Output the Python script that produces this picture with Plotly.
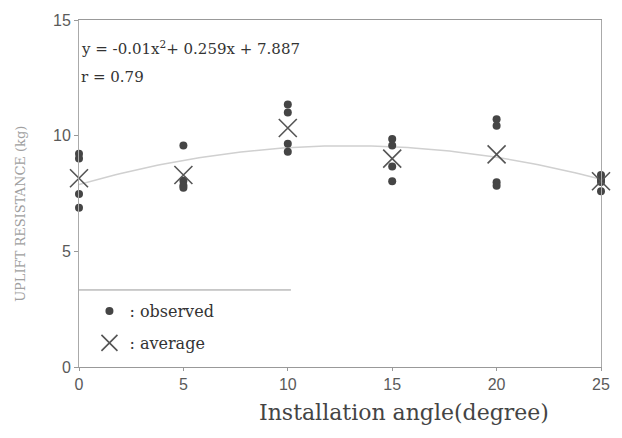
import numpy as np
import plotly.graph_objects as go

# Data
angles = [0, 5, 10, 15, 20, 25]
obs_x = [0, 0, 0, 0,
         5, 5, 5, 5,
         10, 10, 10, 10,
         15, 15, 15, 15,
         20, 20, 20, 20,
         25, 25, 25, 25]
obs_y = [9.22, 9.01, 7.48, 6.88,
         9.58, 8.05, 7.85, 7.75,
         11.35, 11.0, 9.65, 9.3,
         9.86, 9.58, 8.67, 8.03,
         10.71, 10.43, 7.99, 7.83,
         8.3, 8.1, 8.0, 7.6]
avg_y = [8.16, 8.3, 10.33, 9.01, 9.19, 8.03]

# Regression equation shown on the chart: y = a x^2 + b x + c
coef_a, coef_b, coef_c = -0.01, 0.259, 7.887
r_value = 0.79

x_title = "Installation angle(degree)"
y_title = "UPLIFT RESISTANCE (kg)"

fit_x = np.linspace(0, 25, 101)
fit_y = coef_a * fit_x**2 + coef_b * fit_x + coef_c

serif = "DejaVu Serif, serif"
sans = "Liberation Sans, Arial, sans-serif"

fig = go.Figure()
fig.add_trace(go.Scatter(
    x=fit_x, y=fit_y, mode="lines",
    line=dict(color="#d0d0d0", width=1.5),
    showlegend=False, hoverinfo="skip"))
fig.add_trace(go.Scatter(
    x=obs_x, y=obs_y, mode="markers", name=": observed",
    legendgroup="a", cliponaxis=False,
    marker=dict(symbol="circle", size=8, color="#454545")))
fig.add_trace(go.Scatter(
    x=angles, y=avg_y, mode="markers", name=": average",
    legendgroup="b", cliponaxis=False,
    marker=dict(symbol="x-thin", size=18,
                line=dict(color="#555555", width=1.6))))

fig.add_annotation(
    xref="paper", yref="paper", x=0.0, y=0.92, xanchor="left", yanchor="middle",
    text=f"y = {coef_a:.2f}x<sup>2</sup>+ {coef_b}x + {coef_c}",
    showarrow=False, font=dict(family=serif, size=15, color="#333333"))
fig.add_annotation(
    xref="paper", yref="paper", x=0.0, y=0.835, xanchor="left", yanchor="middle",
    text=f"r = {r_value}",
    showarrow=False, font=dict(family=serif, size=15, color="#333333"))

# axis titles (placed as in the reference, off-centre)
fig.add_annotation(
    xref="paper", yref="paper", x=0.623, y=-0.13, xanchor="center", yanchor="middle",
    text=x_title, showarrow=False,
    font=dict(family=serif, size=22, color="#444444"))
fig.add_annotation(
    xref="paper", yref="paper", x=-0.112, y=0.44, xanchor="center", yanchor="middle",
    text=y_title, showarrow=False, textangle=-90,
    font=dict(family=serif, size=13, color="#a0a0a0"))

# top line of the legend box
fig.add_shape(type="line", xref="paper", yref="paper",
              x0=0, x1=0.406, y0=0.222, y1=0.222,
              line=dict(color="#999999", width=1))

fig.update_layout(
    width=622, height=438,
    margin=dict(l=79, r=21, t=14, b=71),
    plot_bgcolor="white", paper_bgcolor="white",
    legend=dict(x=0.02, y=0.21, xanchor="left", yanchor="top",
                bgcolor="rgba(0,0,0,0)", borderwidth=0,
                font=dict(family=serif, size=16, color="#333333"),
                tracegroupgap=8, itemwidth=30),
    xaxis=dict(range=[0, 25], tickvals=[0, 5, 10, 15, 20, 25],
               showgrid=False, zeroline=False,
               showline=True, mirror=True, linecolor="#999999", linewidth=1,
               ticks="outside", ticklen=3, tickcolor="#999999",
               tickfont=dict(family=sans, size=16, color="#5a5a5a")),
    yaxis=dict(range=[0, 15], tickvals=[0, 5, 10, 15],
               showgrid=False, zeroline=False,
               showline=True, mirror=True, linecolor="#aaaaaa", linewidth=1,
               ticks="outside", ticklen=4, tickcolor="#999999",
               tickfont=dict(family=sans, size=16, color="#5a5a5a")),
)

fig.write_html("out.html", config={"displayModeBar": False},
               post_script="document.body.style.margin='0';document.body.style.padding='0';")
